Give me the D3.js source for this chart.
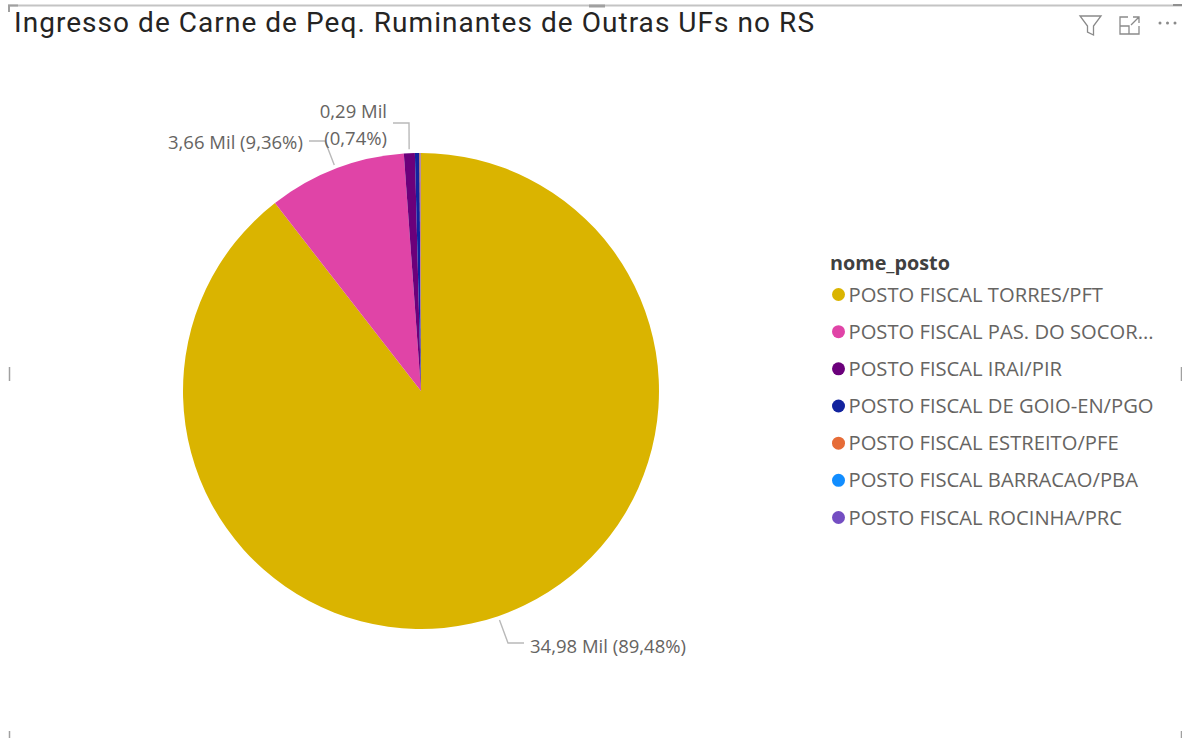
<!DOCTYPE html>
<html lang="en">
<head>
    <meta charset="UTF-8">
    <title>Ingresso de Carne</title>
    <script src="https://d3js.org/d3.v7.min.js"></script>
    <style>
      html, body { margin: 0; padding: 0; background: #fff; }
      svg { display: block; }
      text { font-family: "Open Sans", sans-serif; }
    </style>
</head>
<body>
<svg id="mainCanvas" width="1182" height="738"></svg>
<script>

const titleText = 'Ingresso de Carne de Peq. Ruminantes de Outras UFs no RS';
const legendTitle = 'nome_posto';
const postos = ['POSTO FISCAL TORRES/PFT', 'POSTO FISCAL PAS. DO SOCORRO/PSO', 'POSTO FISCAL IRAI/PIR', 'POSTO FISCAL DE GOIO-EN/PGO', 'POSTO FISCAL ESTREITO/PFE', 'POSTO FISCAL BARRACAO/PBA', 'POSTO FISCAL ROCINHA/PRC'];
const legendLabels = ['POSTO FISCAL TORRES/PFT', 'POSTO FISCAL PAS. DO SOCOR...', 'POSTO FISCAL IRAI/PIR', 'POSTO FISCAL DE GOIO-EN/PGO', 'POSTO FISCAL ESTREITO/PFE', 'POSTO FISCAL BARRACAO/PBA', 'POSTO FISCAL ROCINHA/PRC'];
const valores = [34.98, 3.66, 0.29, 0.12, 0.03, 0.005, 0.005];
const cores = ['#DAB400', '#E044A7', '#6B007B', '#12239E', '#E66C37', '#118DFF', '#744EC2'];

const svg = d3.select('#mainCanvas');
const colour = d3.scaleOrdinal().domain(postos).range(cores);

const cx = 421, cy = 391, radius = 238;

// visual frame, the little grey handles of the report editor
const frame = svg.append('g').attr('stroke', '#c4c4c4').attr('fill', 'none');
frame.append('line').attr('x1', 8).attr('x2', 1182).attr('y1', 5.5).attr('y2', 5.5).attr('stroke-width', 2);
frame.append('path').attr('d', 'M18,5.5H9V12').attr('stroke', '#a0a0a0').attr('stroke-width', 2);
frame.append('line').attr('x1', 589).attr('x2', 605).attr('y1', 6).attr('y2', 6).attr('stroke', '#a0a0a0').attr('stroke-width', 3);
frame.append('line').attr('x1', 1173).attr('x2', 1182).attr('y1', 5).attr('y2', 5).attr('stroke', '#909090').attr('stroke-width', 2);
[[9.5, 367, 381], [9.5, 731, 738], [1181.5, 367, 381], [1181.5, 731, 738]].forEach(function(h) {
  frame.append('line').attr('x1', h[0]).attr('x2', h[0]).attr('y1', h[1]).attr('y2', h[2]).attr('stroke', '#a0a0a0').attr('stroke-width', 1.5);
});

svg.append('text')
    .attr('x', 14)
    .attr('y', 32)
    .attr('fill', '#252423')
    .style('font-family', 'Roboto, sans-serif')
    .style('font-size', '28px')
    .attr('textLength', 800)
    .text(titleText);

// header icons: filter, focus mode, more
const icons = svg.append('g').attr('fill', 'none').attr('stroke', '#8a8a8a').attr('stroke-width', 1.3);
icons.append('path').attr('d', 'M1080,16H1101L1093.5,26V35L1087.5,32V26Z');
icons.append('path').attr('d', 'M1128,17H1120V34H1139V26M1120,26H1129V34M1131,25L1139,17M1133,17H1139V23');
icons.selectAll('circle.dot').data([1160, 1167.5, 1175]).join('circle')
    .attr('class', 'dot')
    .attr('cx', d => d)
    .attr('cy', 23)
    .attr('r', 1.5)
    .attr('fill', '#8a8a8a')
    .attr('stroke', 'none');

const pie = d3.pie().sort(null).value(d => d.valor);
const arc = d3.arc().innerRadius(0).outerRadius(radius);
const fatias = pie(postos.map((p, i) => ({posto: p, valor: valores[i]})));

const chart = svg.append('g').attr('transform', 'translate(' + cx + ',' + cy + ')');
chart.selectAll('path.slice').data(fatias).join('path')
    .attr('class', 'slice')
    .attr('d', arc)
    .attr('fill', d => colour(d.data.posto));

// point on the rim at a slice's middle angle, pushed out by `extra` px
let rimPoint = function(d, extra) {
  let a = (d.startAngle + d.endAngle) / 2;
  return [Math.sin(a) * (radius + extra), -Math.cos(a) * (radius + extra)];
};

// leader lines: rim point, then elbow, then end next to the label
const leaderStyle = [
  {slice: 0, elbow: [87, 252], end: [103, 252]},
  {slice: 1, elbow: [-96, -250], end: [-112, -250]},
  {slice: 2, elbow: [-12, -268], end: [-28, -268]}
];
leaderStyle.forEach(function(l) {
  let p = rimPoint(fatias[l.slice], 4);
  chart.append('path')
      .attr('d', d3.line()([p, l.elbow, l.end]))
      .attr('fill', 'none')
      .attr('stroke', '#b9b9b9')
      .attr('stroke-width', 1.4);
});

const dataLabels = [
  {x: 530, y: 653, anchor: 'start', lines: ['34,98 Mil (89,48%)']},
  {x: 168, y: 149, anchor: 'start', lines: ['3,66 Mil (9,36%)']},
  {x: 387, y: 118, anchor: 'end', lines: ['0,29 Mil', '(0,74%)']}
];
dataLabels.forEach(function(l) {
  l.lines.forEach(function(t, i) {
    svg.append('text')
        .attr('x', l.x)
        .attr('y', l.y + i * 27)
        .attr('text-anchor', l.anchor)
        .attr('fill', '#666462')
        .style('font-size', '18.5px')
        .text(t);
  });
});

// legend
svg.append('text')
    .attr('x', 830)
    .attr('y', 270)
    .attr('fill', '#404040')
    .style('font-size', '19.8px')
    .style('font-weight', 700)
    .text(legendTitle);

const legendY = d3.scalePoint().domain(postos).range([294.5, 517.5]);
const legend = svg.selectAll('g.legendItem').data(postos).join('g')
    .attr('class', 'legendItem')
    .attr('transform', d => 'translate(0,' + legendY(d) + ')');
legend.append('circle')
    .attr('cx', 838.5)
    .attr('r', 6.5)
    .attr('fill', d => colour(d));
legend.append('text')
    .attr('x', 848.5)
    .attr('y', 7)
    .attr('fill', '#666462')
    .style('font-size', '20.2px')
    .text((d, i) => legendLabels[i]);

</script>
</body>
</html>
